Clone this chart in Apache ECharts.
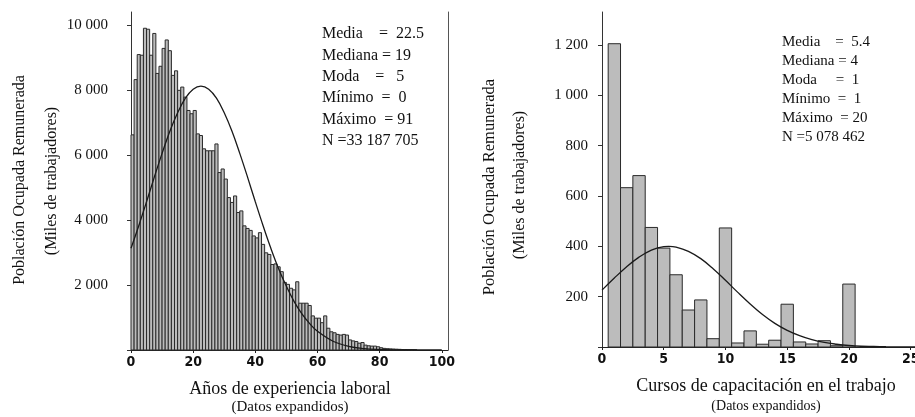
<!DOCTYPE html>
<html>
<head>
<meta charset="utf-8">
<script src="https://cdn.jsdelivr.net/npm/echarts@6/dist/echarts.min.js"></script>
<style>
  html, body { margin: 0; padding: 0; background: #fff; }
  #chart { width: 915px; height: 417px; }
</style>
</head>
<body>
<div id="chart"></div>
<script>
// Years of work experience (one bin per year) and people per bin
const expYears = [
  0, 1, 2, 3, 4, 5, 6, 7, 8, 9,
  10, 11, 12, 13, 14, 15, 16, 17, 18, 19,
  20, 21, 22, 23, 24, 25, 26, 27, 28, 29,
  30, 31, 32, 33, 34, 35, 36, 37, 38, 39,
  40, 41, 42, 43, 44, 45, 46, 47, 48, 49,
  50, 51, 52, 53, 54, 55, 56, 57, 58, 59,
  60, 61, 62, 63, 64, 65, 66, 67, 68, 69,
  70, 71, 72, 73, 74, 75, 76, 77, 78, 79,
  80, 81, 82, 83, 84, 85, 86, 87, 88, 89, 90, 91
];
const expCounts = [
  6620, 8320, 9090, 9070, 9900, 9870, 9070, 9740, 8510, 8730,
  9280, 9540, 9210, 8450, 8590, 7990, 8090, 7780, 7370, 7270,
  7370, 6650, 6600, 6190, 6130, 6130, 6130, 6340, 5460, 5570,
  5260, 4690, 4540, 4740, 4230, 4280, 3820, 3740, 3680, 3510,
  3450, 3610, 3250, 2990, 2940, 2630, 2650, 2560, 2410, 2080,
  2020, 1900, 1850, 2100, 1440, 1440, 1440, 1370, 1050, 980,
  980, 840, 1050, 670, 560, 530, 480, 460, 480, 460,
  310, 280, 260, 210, 230, 150, 130, 120, 120, 100,
  70, 50, 40, 35, 30, 25, 20, 15, 15, 10, 8, 5
];
// Fitted normal curve over the experience histogram
const expCurveX = [0, 2.5, 5, 7.5, 10, 12.5, 15, 17.5, 20, 22.5, 25, 27.5, 30, 32.5, 35, 37.5, 40, 42.5, 45, 47.5, 50, 52.5, 55, 57.5, 60, 65, 70, 75, 80, 85, 90, 95, 100];
const expCurveY = [3130, 3825, 4560, 5320, 6050, 6730, 7300, 7750, 8025, 8120, 8025, 7750, 7300, 6730, 6050, 5320, 4560, 3825, 3130, 2500, 1960, 1490, 1110, 810, 575, 270, 115, 45, 16, 5, 1, 0, 0];

// Training courses taken at work
const courses = [1, 2, 3, 4, 5, 6, 7, 8, 9, 10, 11, 12, 13, 14, 15, 16, 17, 18, 19, 20];
const courseCounts = [1205, 633, 681, 475, 393, 287, 147, 187, 33, 473, 16, 64, 11, 27, 170, 20, 12, 25, 5, 250];
// Fitted normal curve over the courses histogram
const courseCurveX = [0, 1, 2, 3, 4, 5, 5.4, 6, 7, 8, 9, 10, 11, 12, 13, 14, 15, 16, 17, 18, 19, 20, 21, 22, 23, 24, 25, 26];
const courseCurveY = [226, 274, 319, 357, 385, 399, 400, 397, 380, 351, 311, 265, 217, 171, 129, 94, 66, 45, 29, 18, 11, 6, 3, 2, 1, 0.5, 0.3, 0.1];

// Axis tick labels
const expTicksX = [0, 20, 40, 60, 80, 100];
const expTicksY = [2000, 4000, 6000, 8000, 10000];
const courseTicksX = [0, 5, 10, 15, 20, 25];
const courseTicksY = [200, 400, 600, 800, 1000, 1200];

// Summary statistics boxes
const expStats = ['Media    =  22.5', 'Mediana = 19', 'Moda    =   5', 'Mínimo  =  0', 'Máximo  = 91', 'N =33 187 705'];
const courseStats = ['Media    =  5.4', 'Mediana = 4', 'Moda     =  1', 'Mínimo  =  1', 'Máximo  = 20', 'N =5 078 462'];

const SERIF = '"Liberation Serif", "Times New Roman", serif';
const NARROW = '"Liberation Sans Narrow", "Arial Narrow", "DejaVu Sans Condensed", "Liberation Sans", sans-serif';

const fmtThousands = v => String(v).replace(/\B(?=(\d{3})+(?!\d))/g, ' ');

const chart = echarts.init(document.getElementById('chart'), null, { renderer: 'canvas' });

function xAxisCfg(gridIndex, max, ticks) {
  return {
    type: 'value', gridIndex, min: 0, max,
    axisLine: { show: true, lineStyle: { color: '#222', width: 1 } },
    axisTick: { show: true, length: 3, customValues: ticks, lineStyle: { color: '#222' } },
    axisLabel: {
      customValues: ticks, margin: 5,
      fontFamily: NARROW, fontWeight: 'bold', fontSize: 14, color: '#111'
    },
    splitLine: { show: false }
  };
}
function yAxisCfg(gridIndex, max, ticks, labelMargin) {
  return {
    type: 'value', gridIndex, min: 0, max,
    axisLine: { show: true, lineStyle: { color: '#333', width: 1 } },
    axisTick: { show: true, length: 4, customValues: [0].concat(ticks), lineStyle: { color: '#333' } },
    axisLabel: {
      customValues: ticks, margin: labelMargin,
      fontFamily: SERIF, fontSize: 15, color: '#111',
      formatter: v => fmtThousands(v)
    },
    splitLine: { show: false }
  };
}

function histRenderer(offsetLeft) {
  return function (params, api) {
    const x = api.value(0), v = api.value(1);
    const p0 = api.coord([x - offsetLeft, v]);
    const p1 = api.coord([x - offsetLeft + 1, 0]);
    return {
      type: 'rect',
      shape: { x: p0[0], y: p0[1], width: p1[0] - p0[0], height: p1[1] - p0[1] },
      style: api.style({ fill: '#bcbcbc', stroke: '#2a2a2a', lineWidth: 1 })
    };
  };
}

function statsText(lines, left, top, step, size) {
  return lines.map((t, i) => ({
    type: 'text', left, top: top + i * step,
    style: { text: t, font: size + 'px ' + SERIF, fill: '#111' }
  }));
}
function vText(t, cx, cy, size) {
  return {
    type: 'text', x: cx, y: cy, rotation: Math.PI / 2,
    style: { text: t, font: size + 'px ' + SERIF, fill: '#111', align: 'center', verticalAlign: 'middle' }
  };
}
function hText(t, cx, cy, size) {
  return {
    type: 'text', x: cx, y: cy,
    style: { text: t, font: size + 'px ' + SERIF, fill: '#111', align: 'center', verticalAlign: 'middle' }
  };
}

const option = {
  backgroundColor: '#fff',
  animation: false,
  grid: [
    { left: 131, top: 12, width: 317, height: 338, outerBoundsMode: 'none' },
    // the courses panel runs to the page edge; its 25 label is cut by it
    { left: 602, top: 12, width: 313, height: 335, outerBoundsMode: 'none' }
  ],
  xAxis: [
    xAxisCfg(0, 102, expTicksX),
    xAxisCfg(1, 25.35, courseTicksX)
  ],
  yAxis: [
    yAxisCfg(0, 10400, expTicksY, 23),
    yAxisCfg(1, 1331, courseTicksY, 14),
    // right-hand frame line of the experience panel
    {
      type: 'value', gridIndex: 0, position: 'right', min: 0, max: 10400,
      axisLine: { show: true, lineStyle: { color: '#555', width: 1 } },
      axisTick: { show: false }, axisLabel: { show: false }, splitLine: { show: false }
    }
  ],
  series: [
    {
      type: 'custom', xAxisIndex: 0, yAxisIndex: 0,
      renderItem: histRenderer(0),
      encode: { x: 0, y: 1 },
      data: expYears.map((y, i) => [y, expCounts[i]]),
      z: 2
    },
    {
      type: 'line', xAxisIndex: 0, yAxisIndex: 0,
      data: expCurveX.map((x, i) => [x, expCurveY[i]]),
      smooth: 0.4, showSymbol: false, symbol: 'none',
      lineStyle: { color: '#1a1a1a', width: 1.3 },
      z: 3
    },
    {
      type: 'custom', xAxisIndex: 1, yAxisIndex: 1,
      renderItem: histRenderer(0.5),
      encode: { x: 0, y: 1 },
      data: courses.map((c, i) => [c, courseCounts[i]]),
      z: 2
    },
    {
      type: 'line', xAxisIndex: 1, yAxisIndex: 1,
      data: courseCurveX.map((x, i) => [x, courseCurveY[i]]),
      smooth: 0.4, showSymbol: false, symbol: 'none',
      lineStyle: { color: '#1a1a1a', width: 1.3 },
      z: 3
    }
  ],
  graphic: [
    vText('Población Ocupada Remunerada', 20, 180, 16),
    vText('(Miles de trabajadores)', 52, 181, 16),
    vText('Población Ocupada Remunerada', 490, 187, 16.5),
    vText('(Miles de trabajadores)', 520, 185, 16),
    hText('Años de experiencia laboral', 290, 389, 18),
    hText('(Datos expandidos)', 290, 407, 15),
    hText('Cursos de capacitación en el trabajo', 766, 386, 18),
    hText('(Datos expandidos)', 766, 406, 14)
  ].concat(statsText(expStats, 322, 26, 21.4, 16))
   .concat(statsText(courseStats, 782, 35, 19, 15))
};

chart.setOption(option);
</script>
</body>
</html>
